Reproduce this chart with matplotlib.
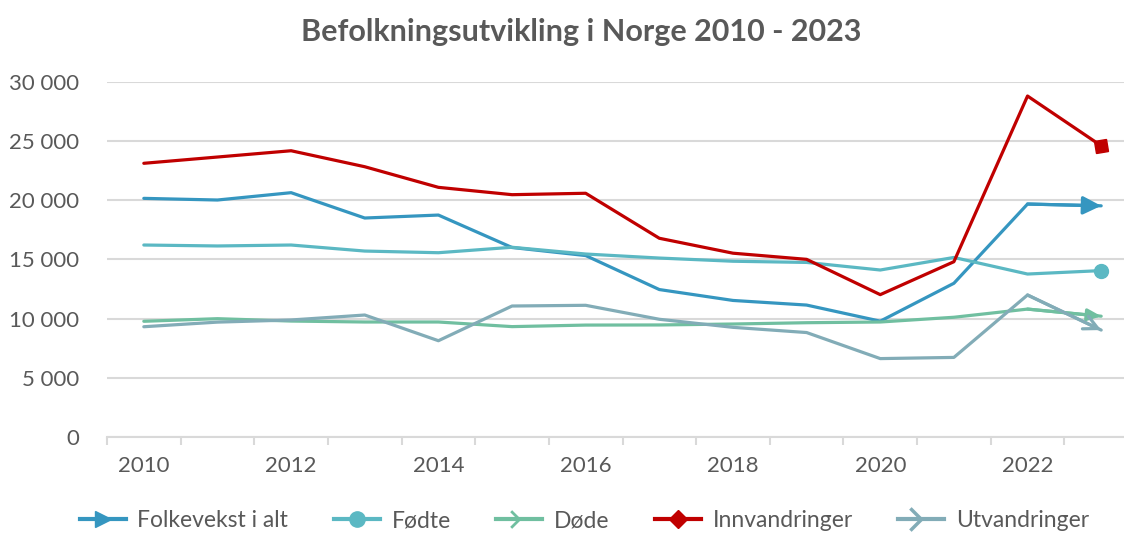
import numpy as np
import matplotlib
matplotlib.use("Agg")
import matplotlib.pyplot as plt
from matplotlib.lines import Line2D
from matplotlib.markers import MarkerStyle
from matplotlib.path import Path
from matplotlib.transforms import Affine2D
from matplotlib.legend_handler import HandlerLine2D
from matplotlib.ticker import FuncFormatter

plt.rcParams['font.family'] = ['Lato', 'DejaVu Sans']

# data
years = [2010, 2011, 2012, 2013, 2014, 2015, 2016, 2017, 2018, 2019, 2020, 2021, 2022, 2023]
folkevekst = [20150, 20010, 20630, 18490, 18740, 16000, 15320, 12450, 11530, 11140, 9780, 12980, 19670, 19520]
fodte = [16210, 16130, 16210, 15700, 15560, 16020, 15450, 15110, 14840, 14740, 14100, 15160, 13760, 14050]
dode = [9770, 9990, 9790, 9710, 9710, 9320, 9450, 9460, 9540, 9650, 9710, 10110, 10800, 10200]
innvandringer = [23110, 23640, 24170, 22820, 21080, 20460, 20580, 16780, 15520, 15000, 12020, 14800, 28790, 24590]
utvandringer = [9310, 9700, 9880, 10300, 8130, 11060, 11120, 9940, 9260, 8820, 6620, 6720, 11990, 9030]

names = ["Folkevekst i alt", "Fødte", "Døde", "Innvandringer", "Utvandringer"]
series = [folkevekst, fodte, dode, innvandringer, utvandringer]
colors = ["#3596C0", "#5BB8C3", "#70BFA0", "#C00000", "#82ACB7"]
grey = "#595959"

fig = plt.figure(figsize=(11.24, 5.34), dpi=100)
ax = fig.add_axes([107 / 1124, 1 - 437 / 534, 1031 / 1124, (437 - 81.7) / 534])

x = np.arange(len(years))
ax.set_xlim(-0.5, len(years) - 0.5)
ax.set_ylim(0, 30000)

for vals, c in zip(series, colors):
    ax.plot(x, vals, color=c, lw=2.3, solid_capstyle='round', solid_joinstyle='round', zorder=3)

# end markers
def seg_angle(vals):
    p0 = ax.transData.transform((x[-2], vals[-2]))
    p1 = ax.transData.transform((x[-1], vals[-1]))
    return np.degrees(np.arctan2(p1[1] - p0[1], p1[0] - p0[0]))

ax.annotate("", xy=(x[-1], folkevekst[-1]), xytext=(x[-2], folkevekst[-2]),
            arrowprops=dict(arrowstyle="-|>,head_length=1.1,head_width=0.55", color=colors[0],
                            lw=2.3, shrinkA=0, shrinkB=0), zorder=4)
ax.plot(x[-1], fodte[-1], 'o', color=colors[1], ms=10, zorder=4)
ax.annotate("", xy=(x[-1], dode[-1]), xytext=(x[-2], dode[-2]),
            arrowprops=dict(arrowstyle="-|>,head_length=0.8,head_width=0.35", color=colors[2],
                            lw=2.3, shrinkA=0, shrinkB=0), zorder=4)
dm = MarkerStyle('D', transform=Affine2D().rotate_deg(seg_angle(innvandringer)))
ax.plot(x[-1], innvandringer[-1], marker=dm, color=colors[3], ms=9, zorder=4)
ax.annotate("", xy=(x[-1], utvandringer[-1]), xytext=(x[-2], utvandringer[-2]),
            arrowprops=dict(arrowstyle="->,head_length=1.0,head_width=0.5", color=colors[4],
                            lw=2.3, shrinkA=0, shrinkB=0), zorder=4)

# axes styling
for s in ['top', 'right', 'left']:
    ax.spines[s].set_visible(False)
ax.spines['bottom'].set_color("#D9D9D9")
ax.spines['bottom'].set_linewidth(1.5)
ax.yaxis.grid(True, color="#D9D9D9", lw=1.5)
ax.set_axisbelow(True)
ax.set_yticks(np.arange(0, 30001, 5000))
ax.yaxis.set_major_formatter(FuncFormatter(lambda v, p: f"{int(v):,}".replace(",", " ")))
ax.tick_params(axis='y', length=0, pad=20, labelsize=16, labelcolor=grey)
ax.set_xticks(x[::2])
ax.set_xticklabels([str(y) for y in years[::2]])
ax.set_xticks(np.arange(-0.5, len(years), 1), minor=True)
ax.tick_params(axis='x', which='major', length=0, pad=14, labelsize=16, labelcolor=grey)
ax.tick_params(axis='x', which='minor', length=6, width=1.5, color="#D9D9D9")

fig.text(0.517, 0.94, "Befolkningsutvikling i Norge 2010 - 2023", ha='center', va='center',
         fontsize=22, fontweight='bold', color=grey)

# legend with marker at the end of the line
class EndHandler(HandlerLine2D):
    def get_xdata(self, legend, xdescent, ydescent, width, height, fontsize):
        xd = np.array([-xdescent, -xdescent + width])
        return xd, np.array([-xdescent + width])

chevron = Path([(-1, 1), (0, 0), (-1, -1)], [Path.MOVETO, Path.LINETO, Path.LINETO])
handles = [
    Line2D([], [], color=colors[0], lw=3, marker='>', ms=11),
    Line2D([], [], color=colors[1], lw=3, marker='o', ms=11),
    Line2D([], [], color=colors[2], lw=3, marker=chevron, ms=12, mfc='none', mew=2),
    Line2D([], [], color=colors[3], lw=3, marker='D', ms=9),
    Line2D([], [], color=colors[4], lw=3, marker=chevron, ms=16, mfc='none', mew=2.5),
]
fig.legend(handles, names, loc='center', bbox_to_anchor=(0.52, 0.025), ncol=5, frameon=False,
           fontsize=16.5, labelcolor=grey, handlelength=2.0, handletextpad=0.5, columnspacing=2.0,
           handler_map={Line2D: EndHandler(numpoints=1)})

fig.savefig("out.png", dpi=100)
